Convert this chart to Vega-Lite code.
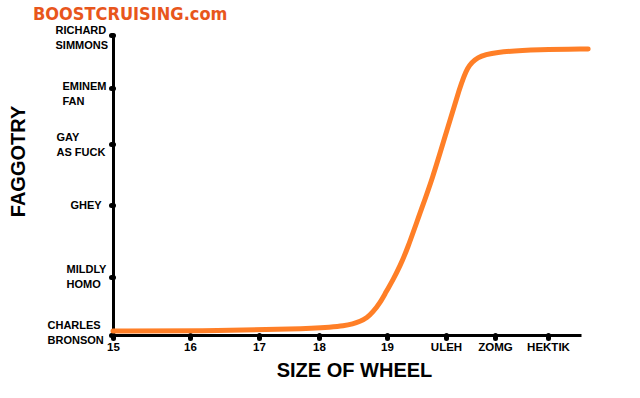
{
  "$schema": "https://vega.github.io/schema/vega-lite/v6.json",
  "width": 468,
  "height": 300,
  "autosize": {"type": "none"},
  "padding": {"left": 113, "top": 35, "right": 59, "bottom": 63},
  "background": "white",
  "title": {
    "text": "BOOSTCRUISING.com",
    "anchor": "start",
    "frame": "group",
    "dx": -80,
    "dy": 4,
    "font": "DejaVu Sans Condensed, Liberation Sans Narrow, sans-serif",
    "fontSize": 18,
    "fontWeight": "bold",
    "color": "#e8561c"
  },
  "data": {
    "values": [
      {"wheel": 15.0, "level": 0.069},
      {"wheel": 16.145, "level": 0.069},
      {"wheel": 17.683, "level": 0.103},
      {"wheel": 18.206, "level": 0.138},
      {"wheel": 18.353, "level": 0.155},
      {"wheel": 18.5, "level": 0.19},
      {"wheel": 18.603, "level": 0.233},
      {"wheel": 18.706, "level": 0.293},
      {"wheel": 18.794, "level": 0.397},
      {"wheel": 18.897, "level": 0.552},
      {"wheel": 18.985, "level": 0.741},
      {"wheel": 19.102, "level": 0.948},
      {"wheel": 19.22, "level": 1.153},
      {"wheel": 19.339, "level": 1.375},
      {"wheel": 19.559, "level": 1.889},
      {"wheel": 19.763, "level": 2.41},
      {"wheel": 20.02, "level": 3.25},
      {"wheel": 20.286, "level": 4.019},
      {"wheel": 20.429, "level": 4.396},
      {"wheel": 20.633, "level": 4.585},
      {"wheel": 20.959, "level": 4.679},
      {"wheel": 21.849, "level": 4.726},
      {"wheel": 22.755, "level": 4.736}
    ]
  },
  "mark": {
    "type": "line",
    "color": "#FF7F27",
    "strokeWidth": 5,
    "strokeCap": "round",
    "interpolate": "basis"
  },
  "encoding": {
    "x": {
      "field": "wheel",
      "type": "quantitative",
      "scale": {
        "domain": [15, 16, 17, 18, 19, 20, 21, 22, 22.62],
        "range": [0, 77, 146, 206, 274, 333, 382, 435, 468],
        "zero": false,
        "nice": false
      },
      "axis": {
        "title": "SIZE OF WHEEL",
        "titleFont": "Liberation Sans",
        "titleFontSize": 20,
        "titleFontWeight": "bold",
        "titleColor": "black",
        "titleX": 241,
        "titleY": 35,
        "titleBaseline": "middle",
        "titleAlign": "center",
        "values": [15, 16, 17, 18, 19, 20, 21, 22],
        "labelExpr": "datum.value == 20 ? 'ULEH' : datum.value == 21 ? 'ZOMG' : datum.value == 22 ? 'HEKTIK' : format(datum.value, 'd')",
        "labelFont": "Liberation Sans",
        "labelFontSize": 11.5,
        "labelFontWeight": "bold",
        "labelColor": "black",
        "labelPadding": 3,
        "labelFlush": false,
        "labelOverlap": false,
        "domainColor": "black",
        "domainWidth": 3,
        "tickColor": "black",
        "tickSize": 3,
        "tickWidth": 5,
        "tickCap": "round",
        "grid": false
      }
    },
    "y": {
      "field": "level",
      "type": "quantitative",
      "scale": {
        "domain": [0, 1, 2, 3, 4, 5],
        "range": [300, 242, 170, 109, 53, 0],
        "zero": false,
        "nice": false
      },
      "axis": {
        "title": "FAGGOTRY",
        "titleFont": "Liberation Sans",
        "titleFontSize": 20,
        "titleFontWeight": "bold",
        "titleColor": "black",
        "titleAngle": -90,
        "titleX": -95,
        "titleY": 126,
        "titleBaseline": "middle",
        "titleAlign": "center",
        "values": [0, 1, 2, 3, 4, 5],
        "labelExpr": "datum.value == 0 ? ['CHARLES', 'BRONSON'] : datum.value == 1 ? ['MILDLY', 'HOMO'] : datum.value == 2 ? 'GHEY' : datum.value == 3 ? ['GAY', 'AS FUCK'] : datum.value == 4 ? ['EMINEM', 'FAN'] : ['RICHARD', 'SIMMONS']",
        "labelFont": "Liberation Sans",
        "labelFontSize": 11,
        "labelFontWeight": "bold",
        "labelColor": "black",
        "labelLineHeight": 15,
        "labelAlign": "left",
        "labelBaseline": "middle",
        "labelPadding": {
          "condition": [
            {"test": "datum.value == 0", "value": 64},
            {"test": "datum.value == 1", "value": 45},
            {"test": "datum.value == 2", "value": 41},
            {"test": "datum.value == 3", "value": 55},
            {"test": "datum.value == 4", "value": 49}
          ],
          "value": 56
        },
        "labelOffset": {
          "condition": [
            {"test": "datum.value == 0", "value": -10},
            {"test": "datum.value == 1", "value": -8},
            {"test": "datum.value == 2", "value": 0},
            {"test": "datum.value == 3", "value": -7},
            {"test": "datum.value == 4", "value": -2}
          ],
          "value": -5
        },
        "labelFlush": false,
        "labelOverlap": false,
        "domainColor": "black",
        "domainWidth": 3,
        "tickColor": "black",
        "tickSize": 2,
        "tickWidth": 5,
        "tickCap": "round",
        "grid": false
      }
    }
  },
  "config": {
    "view": {"stroke": null}
  }
}
